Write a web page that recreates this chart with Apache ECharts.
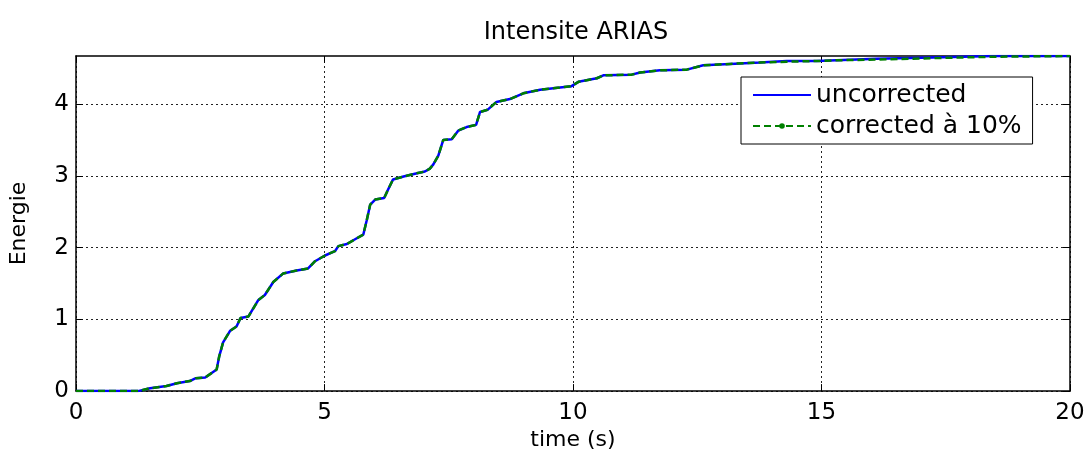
<!DOCTYPE html>
<html>
<head>
<meta charset="utf-8">
<script src="https://cdn.jsdelivr.net/npm/echarts@6/dist/echarts.min.js"></script>
<style>html,body{margin:0;padding:0;background:#fff}#c{width:1090px;height:456px}</style>
</head>
<body>
<div id="c"></div>
<script>
const timeS = [0, 1.25, 1.49, 1.82, 2.03, 2.29, 2.41, 2.6, 2.83, 2.88, 2.96, 3.1, 3.23, 3.31, 3.47, 3.67, 3.8, 3.97, 4.17, 4.44, 4.67, 4.81, 5.01, 5.21, 5.28, 5.45, 5.65, 5.78, 5.85, 5.92, 6.02, 6.2, 6.28, 6.38, 6.59, 6.82, 7.02, 7.12, 7.19, 7.29, 7.39, 7.56, 7.69, 7.86, 8.05, 8.13, 8.28, 8.46, 8.73, 9.0, 9.34, 9.74, 9.97, 10.11, 10.48, 10.61, 11.18, 11.35, 11.75, 12.29, 12.62, 13.16, 13.76, 14.3, 14.9, 15.3, 16.1, 17.25, 18.45, 20];
const uncorrected = [0, 0, 0.04, 0.07, 0.11, 0.14, 0.18, 0.19, 0.30, 0.48, 0.68, 0.84, 0.90, 1.02, 1.04, 1.27, 1.34, 1.52, 1.64, 1.68, 1.71, 1.81, 1.89, 1.95, 2.02, 2.05, 2.13, 2.18, 2.38, 2.60, 2.67, 2.69, 2.81, 2.95, 2.99, 3.03, 3.06, 3.10, 3.16, 3.28, 3.50, 3.51, 3.63, 3.68, 3.71, 3.89, 3.92, 4.03, 4.07, 4.15, 4.20, 4.23, 4.25, 4.31, 4.36, 4.40, 4.41, 4.44, 4.47, 4.48, 4.54, 4.56, 4.58, 4.60, 4.60, 4.61, 4.63, 4.65, 4.67, 4.67];
const corrected10 = [0, 0, 0.04, 0.07, 0.11, 0.14, 0.18, 0.19, 0.30, 0.48, 0.68, 0.84, 0.90, 1.02, 1.04, 1.27, 1.34, 1.52, 1.64, 1.68, 1.71, 1.81, 1.89, 1.95, 2.02, 2.05, 2.13, 2.18, 2.38, 2.60, 2.67, 2.69, 2.81, 2.95, 2.99, 3.03, 3.06, 3.10, 3.16, 3.28, 3.50, 3.51, 3.63, 3.68, 3.71, 3.89, 3.92, 4.03, 4.07, 4.15, 4.20, 4.23, 4.25, 4.31, 4.36, 4.40, 4.41, 4.44, 4.47, 4.48, 4.54, 4.56, 4.58, 4.59, 4.60, 4.61, 4.62, 4.64, 4.66, 4.67];
const seriesNames = ['uncorrected', 'corrected à 10%'];
const yTicks = [0, 1, 2, 3, 4];
const xTicks = [0, 5, 10, 15, 20];
const titleText = 'Intensite ARIAS';
const xName = 'time (s)';
const yName = 'Energie';

const FONT = 'DejaVu Sans';
const chart = echarts.init(document.getElementById('c'), null, {renderer: 'canvas'});
const pair = (ys) => timeS.map((t, i) => [t, ys[i]]);
const gridLine = {show: true, lineStyle: {color: '#222', type: [2, 3], width: 1}};
const axLine = {show: true, onZero: false, lineStyle: {color: '#000', width: 1.5}};
const xTick = {show: true, inside: true, length: 7, customValues: xTicks, lineStyle: {color: '#000'}};
const yTick = {show: true, inside: true, length: 7, customValues: yTicks, lineStyle: {color: '#000'}};
chart.setOption({
  animation: false,
  backgroundColor: '#fff',
  title: {text: titleText, left: 571, top: 16, textAlign: 'center',
    textStyle: {fontFamily: FONT, fontSize: 24, fontWeight: 'normal', color: '#000'}},
  grid: {left: 76, right: 20, top: 56, bottom: 56, containLabel: false},
  legend: {
    orient: 'vertical', left: 741, top: 77,
    padding: [5, 11, 5, 11], itemGap: 5, itemWidth: 58, itemHeight: 7,
    borderColor: '#000', borderWidth: 1, backgroundColor: '#fff',
    textStyle: {fontFamily: FONT, fontSize: 25, color: '#000', lineHeight: 26},
    data: [
      {name: seriesNames[0], itemStyle: {color: 'rgba(0,0,0,0)', borderWidth: 0}},
      {name: seriesNames[1]}
    ]
  },
  xAxis: [
    {type: 'value', position: 'bottom', min: 0, max: 20, interval: 5,
      name: xName, nameLocation: 'middle', nameGap: 32,
      nameTextStyle: {fontFamily: FONT, fontSize: 22, color: '#000'},
      axisLine: axLine, axisTick: xTick, splitLine: gridLine,
      axisLabel: {fontFamily: FONT, fontSize: 23, color: '#000', margin: 10}},
    {type: 'value', position: 'top', min: 0, max: 20, interval: 5,
      axisLine: axLine, axisTick: xTick, splitLine: {show: false}, axisLabel: {show: false}}
  ],
  yAxis: [
    {type: 'value', position: 'left', min: 0, max: 4.67, interval: 1,
      name: yName, nameLocation: 'middle', nameGap: 46, nameRotate: 90,
      nameTextStyle: {fontFamily: FONT, fontSize: 22, color: '#000'},
      axisLine: axLine, axisTick: yTick, splitLine: gridLine,
      axisLabel: {fontFamily: FONT, fontSize: 23, color: '#000', margin: 7,
        formatter: v => (Math.abs(v - Math.round(v)) < 1e-6 ? String(Math.round(v)) : '')}},
    {type: 'value', position: 'right', min: 0, max: 4.67, interval: 1,
      axisLine: axLine, axisTick: yTick, splitLine: {show: false}, axisLabel: {show: false}}
  ],
  series: [
    {name: seriesNames[0], type: 'line', data: pair(uncorrected), showSymbol: false, symbol: 'none',
      lineStyle: {color: '#0000ff', width: 2.5}, itemStyle: {color: '#0000ff'}, z: 3},
    {name: seriesNames[1], type: 'line', data: pair(corrected10), showSymbol: false, symbol: 'circle',
      lineStyle: {color: '#008000', width: 2.5, type: [7, 4]}, itemStyle: {color: '#008000'}, z: 4}
  ]
});
</script>
</body>
</html>
